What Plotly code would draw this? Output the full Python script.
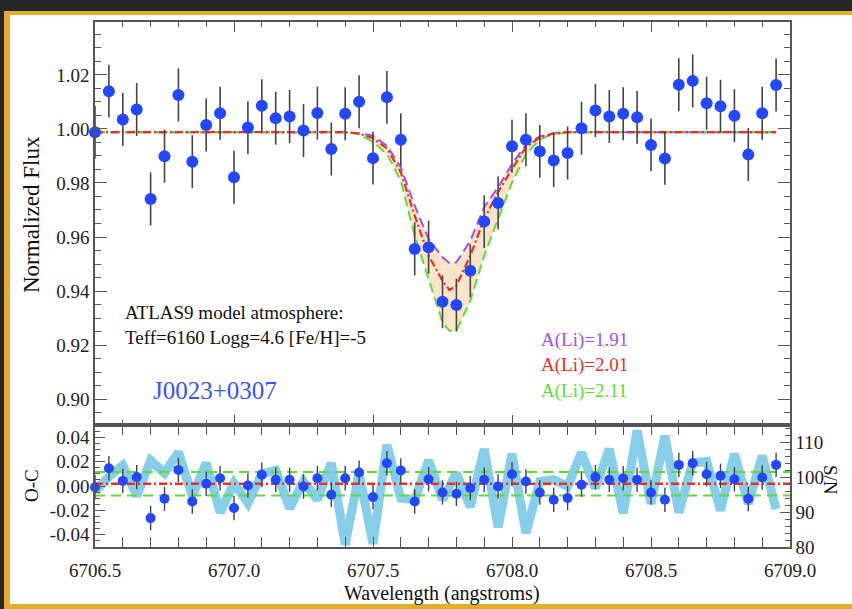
import plotly.graph_objects as go
from plotly.subplots import make_subplots

# ---------------- data ----------------
wave = [6706.50, 6706.55, 6706.60, 6706.65, 6706.70, 6706.75, 6706.80, 6706.85, 6706.90, 6706.95,
        6707.00, 6707.05, 6707.10, 6707.15, 6707.20, 6707.25, 6707.30, 6707.35, 6707.40, 6707.45,
        6707.50, 6707.55, 6707.60, 6707.65, 6707.70, 6707.75, 6707.80, 6707.85, 6707.90, 6707.95,
        6708.00, 6708.05, 6708.10, 6708.15, 6708.20, 6708.25, 6708.30, 6708.35, 6708.40, 6708.45,
        6708.50, 6708.55, 6708.60, 6708.65, 6708.70, 6708.75, 6708.80, 6708.85, 6708.90, 6708.95]

flux = [0.9988, 1.0140, 1.0035, 1.0072, 0.9741, 0.9899, 1.0126, 0.9879, 1.0015, 1.0058,
        0.9821, 1.0005, 1.0086, 1.0040, 1.0046, 0.9994, 1.0059, 0.9926, 1.0056, 1.0101,
        0.9892, 1.0117, 0.9960, 0.9556, 0.9562, 0.9360, 0.9348, 0.9475, 0.9657, 0.9726,
        0.9936, 0.9960, 0.9917, 0.9883, 0.9911, 1.0003, 1.0068, 1.0046, 1.0056, 1.0043,
        0.9941, 0.9891, 1.0164, 1.0178, 1.0095, 1.0084, 1.0049, 0.9905, 1.0058, 1.0163]
flux_err = 0.0098

oc = [-0.0010, 0.0146, 0.0042, 0.0073, -0.0263, -0.0105, 0.0132, -0.0127, 0.0018, 0.0064,
      -0.0181, 0.0004, 0.0092, 0.0051, 0.0051, -0.0004, 0.0064, -0.0072, 0.0064, 0.0110,
      -0.0091, 0.0187, 0.0127, -0.0127, 0.0056, -0.0053, -0.0064, -0.0017, 0.0051, -0.0004,
      0.0097, 0.0037, -0.0053, -0.0113, -0.0099, 0.0010, 0.0073, 0.0051, 0.0064, 0.0051,
      -0.0053, -0.0113, 0.0173, 0.0187, 0.0097, 0.0083, 0.0056, -0.0105, 0.0070, 0.0173]
oc_err = 0.0100

snr = [95.9, 100.2, 103.4, 94.7, 104.8, 101.2, 107.2, 94.7, 104.1, 89.9,
       98.3, 92.6, 101.0, 102.0, 91.1, 98.8, 93.6, 104.1, 80.7, 101.2,
       80.9, 109.3, 94.0, 93.6, 104.8, 93.6, 101.2, 91.5, 108.1, 85.7,
       106.7, 84.0, 98.8, 99.3, 97.4, 107.1, 96.9, 108.1, 89.7, 113.4,
       92.4, 111.9, 89.9, 104.2, 104.5, 90.5, 106.7, 92.4, 106.2, 90.9]

model_wave = [6706.50, 6707.40, 6707.45, 6707.50, 6707.55, 6707.60, 6707.65, 6707.70, 6707.75,
              6707.775, 6707.80, 6707.85, 6707.90, 6707.95, 6708.00, 6708.05, 6708.10, 6708.15,
              6708.20, 6708.95]
model_li191 = [0.9988, 0.9988, 0.9984, 0.9975, 0.9938, 0.9858, 0.9716, 0.9593, 0.9525,
               0.9504, 0.9506, 0.9586, 0.9710, 0.9784, 0.9870, 0.9942, 0.9972, 0.9985,
               0.9988, 0.9988]
model_li201 = [0.9988, 0.9988, 0.9983, 0.9966, 0.9928, 0.9840, 0.9679, 0.9531, 0.9438,
               0.9404, 0.9420, 0.9531, 0.9667, 0.9766, 0.9852, 0.9932, 0.9969, 0.9983,
               0.9988, 0.9988]
model_li211 = [0.9988, 0.9988, 0.9981, 0.9952, 0.9907, 0.9809, 0.9605, 0.9444, 0.9284,
               0.9253, 0.9253, 0.9364, 0.9531, 0.9667, 0.9802, 0.9906, 0.9961, 0.9981,
               0.9988, 0.9988]

oc_mean = 0.0018
oc_upper = 0.0114
oc_lower = -0.0078

x_range = [6706.5, 6709.0]
x_ticks = [6706.5, 6707.0, 6707.5, 6708.0, 6708.5, 6709.0]
x_ticktext = ["6706.5", "6707.0", "6707.5", "6708.0", "6708.5", "6709.0"]
flux_ticks = [0.90, 0.92, 0.94, 0.96, 0.98, 1.00, 1.02]
flux_ticktext = ["0.90", "0.92", "0.94", "0.96", "0.98", "1.00", "1.02"]
oc_ticks = [-0.04, -0.02, 0.00, 0.02, 0.04]
oc_ticktext = ["-0.04", "-0.02", "0.00", "0.02", "0.04"]
snr_ticks = [80, 90, 100, 110]
snr_ticktext = ["80", "90", "100", "110"]

# ---------------- styling ----------------
FONT = "Liberation Serif, Times New Roman, serif"
AX = "#555555"
BLUE = "#2347FF"
PURPLE = "#A64DEB"
RED = "#E8302A"
GREEN = "#62DB3A"
SKY = "#87CEEB"
FILL = "#FCE4C8"

W, H = 852, 609
L, R, T, B = 95, 62, 22, 62
PW, PH = W - L - R, H - T - B


def px(x):
    return (x - L) / PW


def py(y):
    return (H - B - y) / PH


fig = make_subplots(rows=2, cols=1, shared_xaxes=True, vertical_spacing=0,
                    row_heights=[403 / 525, 122 / 525],
                    specs=[[{}], [{"secondary_y": True}]])

# top panel: shaded region between A(Li)=1.91 and 2.11
fig.add_trace(go.Scatter(x=model_wave, y=model_li211, mode="lines", line=dict(width=0),
                         showlegend=False, hoverinfo="skip"), row=1, col=1)
fig.add_trace(go.Scatter(x=model_wave, y=model_li191, mode="lines", line=dict(width=0),
                         fill="tonexty", fillcolor=FILL, showlegend=False, hoverinfo="skip"),
              row=1, col=1)
fig.add_trace(go.Scatter(x=model_wave, y=model_li191, mode="lines",
                         line=dict(color=PURPLE, width=2, dash="10px,5px"),
                         showlegend=False), row=1, col=1)
fig.add_trace(go.Scatter(x=model_wave, y=model_li211, mode="lines",
                         line=dict(color=GREEN, width=2, dash="10px,5px"),
                         showlegend=False), row=1, col=1)
fig.add_trace(go.Scatter(x=model_wave, y=model_li201, mode="lines",
                         line=dict(color=RED, width=2.2, dash="8px,3px,2px,3px"),
                         showlegend=False), row=1, col=1)
fig.add_trace(go.Scatter(x=wave, y=flux, mode="markers",
                         marker=dict(color=BLUE, size=12, line=dict(width=0)),
                         error_y=dict(type="constant", value=flux_err, color="#444444",
                                      thickness=1.6, width=0),
                         cliponaxis=False, showlegend=False), row=1, col=1)

# bottom panel: S/N on primary (right side), O-C on secondary (left side, drawn on top)
fig.add_trace(go.Scatter(x=wave, y=snr, mode="lines",
                         line=dict(color=SKY, width=9), showlegend=False),
              row=2, col=1, secondary_y=False)
fig.add_trace(go.Scatter(x=x_range, y=[oc_upper, oc_upper], mode="lines",
                         line=dict(color=GREEN, width=2, dash="10px,6px"), showlegend=False),
              row=2, col=1, secondary_y=True)
fig.add_trace(go.Scatter(x=x_range, y=[oc_lower, oc_lower], mode="lines",
                         line=dict(color=GREEN, width=2, dash="10px,6px"), showlegend=False),
              row=2, col=1, secondary_y=True)
fig.add_trace(go.Scatter(x=x_range, y=[oc_mean, oc_mean], mode="lines",
                         line=dict(color=RED, width=2.5, dash="8px,3px,2px,3px"), showlegend=False),
              row=2, col=1, secondary_y=True)
fig.add_trace(go.Scatter(x=wave, y=oc, mode="markers",
                         marker=dict(color=BLUE, size=10, line=dict(width=0)),
                         error_y=dict(type="constant", value=oc_err, color="#444444",
                                      thickness=1.4, width=0),
                         cliponaxis=False, showlegend=False),
              row=2, col=1, secondary_y=True)

tickfont = dict(family=FONT, size=19, color="#222222")
common = dict(showline=True, linecolor=AX, linewidth=1.5, ticks="inside", tickcolor=AX,
              tickwidth=1.3, showgrid=False, zeroline=False, tickfont=tickfont)

fig.update_xaxes(range=x_range, tickvals=x_ticks, ticktext=x_ticktext, ticklen=10,
                 mirror="allticks", domain=[0, 1],
                 minor=dict(ticks="inside", ticklen=5, dtick=0.1, tick0=6706.5,
                            tickcolor=AX, tickwidth=1.2, showgrid=False),
                 **common)
fig.update_xaxes(showticklabels=False, row=1, col=1)
fig.update_xaxes(showticklabels=True, ticklabelstandoff=5, row=2, col=1)

fig.update_layout(
    yaxis=dict(range=[0.8904, 1.0396], tickvals=flux_ticks, ticktext=flux_ticktext,
               ticklen=12, mirror="allticks",
               minor=dict(ticks="inside", ticklen=6, dtick=0.005, tick0=0.9,
                          tickcolor=AX, tickwidth=1.2, showgrid=False),
               **common),
    yaxis2=dict(range=[80, 115], tickvals=snr_ticks, ticktext=snr_ticktext, side="right",
                ticklen=10,
                minor=dict(ticks="inside", ticklen=5, dtick=2, tick0=80,
                           tickcolor=AX, tickwidth=1.2, showgrid=False),
                **common),
    yaxis3=dict(range=[-0.05, 0.05], tickvals=oc_ticks, ticktext=oc_ticktext, side="left",
                ticklen=10, overlaying="y2", anchor="x2",
                minor=dict(ticks="inside", ticklen=5, dtick=0.005, tick0=0,
                           tickcolor=AX, tickwidth=1.2, showgrid=False),
                **common),
)

ann_font = dict(family=FONT, size=19, color="#111111")
annotations = [
    dict(text="Normalized Flux", x=px(31), y=py(215), textangle=-90,
         font=dict(family=FONT, size=23, color="#111111")),
    dict(text="O-C", x=px(31), y=py(486), textangle=-90, font=ann_font),
    dict(text="S/N", x=px(831), y=py(480), textangle=90, font=ann_font),
    dict(text="Wavelength (angstroms)", x=px(442), y=py(593),
         font=dict(family=FONT, size=20, color="#111111")),
    dict(text="ATLAS9 model atmosphere:", x=px(123), y=py(312), xanchor="left", font=ann_font),
    dict(text="Teff=6160 Logg=4.6 [Fe/H]=-5", x=px(123), y=py(337), xanchor="left", font=ann_font),
    dict(text="J0023+0307", x=px(151), y=py(390), xanchor="left",
         font=dict(family=FONT, size=25, color="#3A55F5")),
    dict(text="A(Li)=1.91", x=px(539), y=py(340), xanchor="left",
         font=dict(family=FONT, size=19, color=PURPLE)),
    dict(text="A(Li)=2.01", x=px(539), y=py(365), xanchor="left",
         font=dict(family=FONT, size=19, color=RED)),
    dict(text="A(Li)=2.11", x=px(539), y=py(391), xanchor="left",
         font=dict(family=FONT, size=19, color=GREEN)),
]
for a in annotations:
    a.update(xref="paper", yref="paper", showarrow=False)
    a.setdefault("xanchor", "center")
    a["yanchor"] = "middle"

# decorative frame
DARK = "#262626"
GOLD = "#E3AE2C"
shapes = [
    dict(type="rect", x0=px(0), x1=px(852), y0=py(0), y1=py(11), fillcolor=DARK, line_width=0),
    dict(type="rect", x0=px(0), x1=px(852), y0=py(11), y1=py(15), fillcolor=GOLD, line_width=0),
    dict(type="rect", x0=px(0), x1=px(4), y0=py(0), y1=py(609), fillcolor=DARK, line_width=0),
    dict(type="rect", x0=px(4), x1=px(10), y0=py(11), y1=py(609), fillcolor=GOLD, line_width=0),
    dict(type="rect", x0=px(4), x1=px(852), y0=py(604), y1=py(609), fillcolor=GOLD, line_width=0),
]
for s in shapes:
    s.update(xref="paper", yref="paper", layer="above")

fig.update_layout(width=W, height=H, margin=dict(l=L, r=R, t=T, b=B, autoexpand=False),
                  paper_bgcolor="white", plot_bgcolor="white",
                  annotations=annotations, shapes=shapes, showlegend=False,
                  font=dict(family=FONT))

fig.write_html("out.html", config={"displayModeBar": False},
               post_script="document.body.style.margin='0px';document.body.style.overflow='hidden';")
